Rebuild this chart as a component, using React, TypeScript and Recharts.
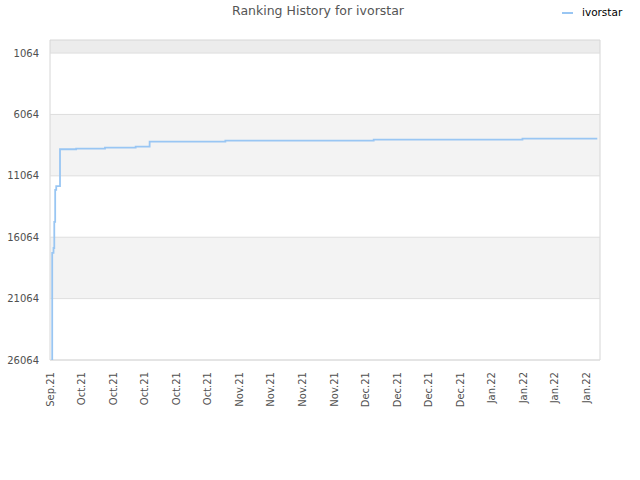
import React from "react"
import {
  LineChart, Line, XAxis, YAxis,
  ReferenceArea, ReferenceLine,
} from "recharts"

// ── data ──────────────────────────────────────────────────────
// day offset from the first sample, rank held from that day on
const DAYS = [0.49, 0.49, 0.78, 0.95, 1.15, 1.38, 2.22, 5.8, 12.2, 19.0, 22.1, 38.9, 71.8, 104.8, 121.4]
const RANKS = [26064, 17340, 16940, 14820, 12210, 11900, 8900, 8850, 8760, 8680, 8280, 8190, 8110, 8030, 8030]

const Y_TICKS = [1064, 6064, 11064, 16064, 21064, 26064]
const X_TICKS = [0, 7, 14, 21, 28, 35, 42, 49, 56, 63, 70, 77, 84, 91, 98, 105, 112, 119]
const X_LABELS = [
  "Sep.21", "Oct.21", "Oct.21", "Oct.21", "Oct.21", "Oct.21",
  "Nov.21", "Nov.21", "Nov.21", "Nov.21",
  "Dec.21", "Dec.21", "Dec.21", "Dec.21",
  "Jan.22", "Jan.22", "Jan.22", "Jan.22",
]
// shaded bands [from, to]
const BANDS: [number, number, string][] = [
  [0, 1064, "#ececec"],
  [6064, 11064, "#f3f3f3"],
  [16064, 21064, "#f3f3f3"],
]

const FONT = "'DejaVu Sans', sans-serif"
const LINE_COLOUR = "#99c6f3"

const data = DAYS.map((d, i) => ({ day: d, rank: RANKS[i] }))

function XTick(props: any) {
  const { x, y, payload } = props
  const idx = X_TICKS.indexOf(payload.value)
  return (
    <text
      x={x}
      y={y}
      transform={`rotate(-90 ${x} ${y})`}
      textAnchor="end"
      dominantBaseline="central"
      fontFamily={FONT}
      fontSize={10}
      fill="#505050"
    >
      {X_LABELS[idx] ?? ""}
    </text>
  )
}

export default function App() {
  return (
    <div style={{ position: "absolute", left: 0, top: 0, width: 640, height: 480, background: "#fff" }}>
      <div style={{
        position: "absolute", left: 0, top: 3, width: 636, textAlign: "center",
        fontFamily: FONT, fontSize: 12.5, color: "#555",
      }}>
        Ranking History for ivorstar
      </div>
      <div style={{ position: "absolute", left: 562, top: 12, width: 11, height: 2, background: LINE_COLOUR }} />
      <div style={{
        position: "absolute", left: 582, top: 6, fontFamily: FONT, fontSize: 10.5, color: "#000",
      }}>
        ivorstar
      </div>
      <LineChart
        width={640}
        height={480}
        data={data}
        margin={{ top: 40, right: 40, bottom: 0, left: 0 }}
      >
        <XAxis
          dataKey="day"
          type="number"
          domain={[0, 122]}
          ticks={X_TICKS}
          interval={0}
          axisLine={false}
          tickLine={false}
          tickSize={6}
          tickMargin={6}
          height={120}
          tick={<XTick />}
        />
        <YAxis
          type="number"
          reversed
          domain={[0, 26064]}
          ticks={Y_TICKS}
          interval={0}
          axisLine={false}
          tickLine={false}
          tickSize={6}
          tickMargin={5}
          width={50}
          tick={{ fontFamily: FONT, fontSize: 10, fill: "#505050" }}
        />
        {BANDS.map(([a, b, c]) => (
          <ReferenceArea key={a} y1={a} y2={b} fill={c} fillOpacity={1} stroke="none" />
        ))}
        {Y_TICKS.map((t) => (
          <ReferenceLine key={t} y={t} stroke="#dedede" strokeWidth={1} />
        ))}
        <ReferenceArea x1={0} x2={122} y1={0} y2={26064} fill="none" stroke="#d6d6d6" strokeWidth={1} />
        <Line
          type="stepAfter"
          dataKey="rank"
          stroke={LINE_COLOUR}
          strokeWidth={1.8}
          dot={false}
          isAnimationActive={false}
        />
      </LineChart>
    </div>
  )
}
